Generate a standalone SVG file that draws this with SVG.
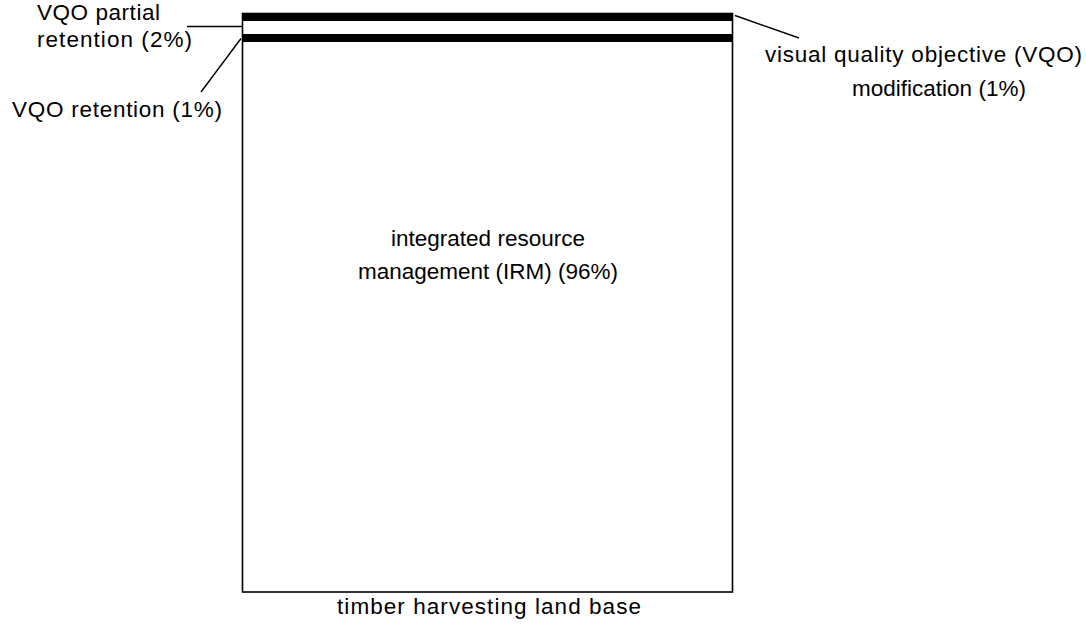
<svg xmlns="http://www.w3.org/2000/svg" width="1086" height="625" viewBox="0 0 1086 625">
  <style>
    .lbl { font-family: "Liberation Sans", Arial, sans-serif; font-size: 22.5px; fill: #000; }
    .mid { text-anchor: middle; }
    .end { text-anchor: end; }
    .lead { stroke: #000; stroke-width: 1.4; fill: none; }
    .band { fill: #000; }
  </style>
  <rect width="1086" height="625" fill="#fff"/>

  <!-- land base block -->
  <g id="land-base">
    <rect x="242.5" y="13.5" width="490" height="578.5" fill="#fff" stroke="#000" stroke-width="1.6"/>
    <text class="lbl" x="337" y="614" textLength="304" lengthAdjust="spacing">timber harvesting land base</text>
  </g>

  <!-- VQO modification strip -->
  <g id="vqo-modification">
    <rect class="band" x="242" y="13" width="491" height="8"/>
    <text class="lbl" x="765" y="62" textLength="317" lengthAdjust="spacing">visual quality objective (VQO)</text>
    <text class="lbl mid" x="939" y="96">modification (1%)</text>
  </g>

  <!-- VQO partial retention strip -->
  <g id="vqo-partial-retention">
    <text class="lbl" x="37" y="20" textLength="123" lengthAdjust="spacing">VQO partial</text>
    <text class="lbl" x="37" y="47" textLength="155" lengthAdjust="spacing">retention (2%)</text>
  </g>

  <!-- VQO retention strip -->
  <g id="vqo-retention">
    <rect class="band" x="242" y="34" width="491" height="8"/>
    <text class="lbl" x="12" y="117" textLength="210" lengthAdjust="spacing">VQO retention (1%)</text>
  </g>

  <!-- IRM area -->
  <g id="irm">
    <text class="lbl mid" x="488" y="246">integrated resource</text>
    <text class="lbl mid" x="488" y="279">management (IRM) (96%)</text>
  </g>

  <!-- leader lines -->
  <g id="connectors">
    <line class="lead" x1="187" y1="26.5" x2="242" y2="26.5"/>
    <line class="lead" x1="201" y1="92" x2="241" y2="38.5"/>
    <line class="lead" x1="735" y1="15.5" x2="799" y2="38"/>
  </g>
</svg>
